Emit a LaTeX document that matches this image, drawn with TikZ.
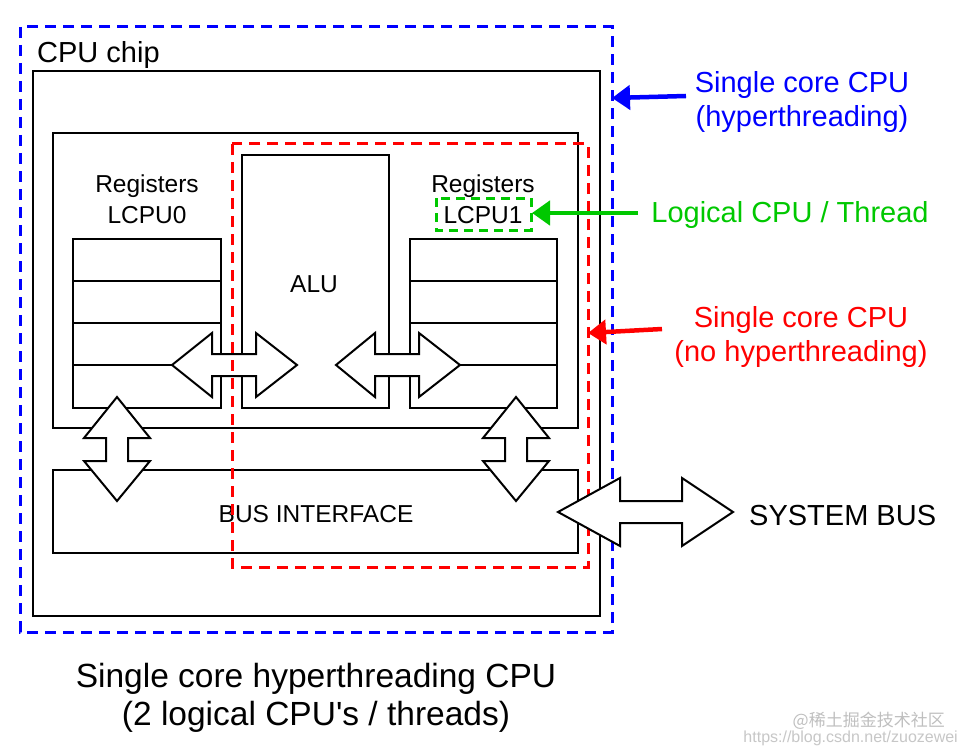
\documentclass[tikz,border=0pt]{standalone}
\usepackage{fontspec}
\setmainfont{Liberation Sans}
\newfontfamily\cjkfont{Noto Sans CJK SC}
\usetikzlibrary{arrows.meta}
\definecolor{myblue}{RGB}{0,0,255}
\definecolor{myred}{RGB}{255,0,0}
\definecolor{mygreen}{RGB}{0,200,0}
\newcommand\fs[1]{\fontsize{#1}{#1}\selectfont}
% horizontal double arrow: x tip1, x back1, x back2, x tip2, y center, head half, shaft half
\newcommand\hdarr[7]{\draw[dblarrow] (#1,#5) -- (#2,#5-#6) -- (#2,#5-#7) -- (#3,#5-#7) -- (#3,#5-#6) -- (#4,#5) -- (#3,#5+#6) -- (#3,#5+#7) -- (#2,#5+#7) -- (#2,#5+#6) -- cycle;}
\newcommand\vdarr[7]{\draw[dblarrow] (#5,#1) -- (#5-#6,#2) -- (#5-#7,#2) -- (#5-#7,#3) -- (#5-#6,#3) -- (#5,#4) -- (#5+#6,#3) -- (#5+#7,#3) -- (#5+#7,#2) -- (#5+#6,#2) -- cycle;}
\begin{document}
\begin{tikzpicture}[x=1pt,y=-1pt,
  box/.style={draw=black, line width=2pt},
  dblarrow/.style={draw=black, fill=white, line width=2pt, line join=miter},
  txt/.style={inner sep=0pt, align=center, font=\fs{24.5}},
  lbl/.style={inner sep=0pt, align=center, font=\fs{29}},
  pointer/.style={line width=4.5pt, -{Triangle[length=18pt,width=24pt]}},
  dashblue/.style={draw=myblue, line width=3pt, dash pattern=on 11pt off 7pt},
  dashred/.style={draw=myred, line width=3pt, dash pattern=on 11pt off 7pt},
  dashgreen/.style={draw=mygreen, line width=3pt, dash pattern=on 9pt off 6pt}]
\useasboundingbox (0,0) rectangle (965,754);
\fill[white] (0,0) rectangle (965,754);
% CPU chip
\draw[box] (33,71) rectangle (600,616);
\node[lbl, anchor=west] (chip) at (37,55) {CPU chip};
% core block
\draw[box] (53,133) rectangle (578,428);
% left registers
\draw[box] (73,239) rectangle (221,408);
\foreach \yy in {281,323,365} \draw[box] (73,\yy) -- (221,\yy);
\node[txt] (reg0a) at (147,186) {Registers};
\node[txt] (reg0b) at (147,215) {LCPU0};
% ALU
\draw[box] (242,155) rectangle (389,408);
\node[txt] (alu) at (314,284) {ALU};
% right registers
\draw[box] (410,239) rectangle (557,408);
\foreach \yy in {281,323,365} \draw[box] (410,\yy) -- (557,\yy);
\node[txt] (reg1a) at (483,186) {Registers};
\node[txt] (reg1b) at (483,215) {LCPU1};
% bus interface
\draw[box] (53,470) rectangle (578,553);
\node[txt] (bus) at (316,514) {BUS INTERFACE};
% internal double arrows
\hdarr{172}{212}{256}{297}{365}{32}{11}
\hdarr{336}{375}{419}{460}{365}{32}{11}
\vdarr{397}{438}{461}{501}{117}{33}{11}
\vdarr{397}{438}{461}{501}{516}{33}{11}
% dashed outlines
\draw[dashred] (232,144) rectangle (588,567);
\draw[dashgreen] (436,198) rectangle (531,230);
\draw[dashblue] (20,27) rectangle (612,632);
% system bus arrow
\hdarr{558}{620}{682}{733}{512}{34}{11}
\node[lbl, anchor=west] (sysbus) at (749,516) {SYSTEM BUS};
% pointers with labels
\node[lbl, text=myblue] (lblblue) at (802,102) {Single core CPU\\[5pt](hyperthreading)};
\coordinate (bluestart) at (686,96);
\coordinate (blueend) at (612,98);
\draw[pointer, myblue] (bluestart) -- (blueend);
\node[lbl, text=mygreen] (lblgreen) at (790,215) {Logical CPU / Thread};
\coordinate (greenstart) at (638,213);
\coordinate (greenend) at (532,213);
\draw[pointer, mygreen] (greenstart) -- (greenend);
\node[lbl, text=myred] (lblred) at (801,337) {Single core CPU\\[5pt](no hyperthreading)};
\coordinate (redstart) at (662,329);
\coordinate (redend) at (588,333);
\draw[pointer, myred] (redstart) -- (redend);
% caption
\node[inner sep=0pt, align=center, font=\fs{33.5}] (caption) at (316,698) {Single core hyperthreading CPU\\[5pt](2 logical CPU\textquotesingle s / threads)};
% watermark
\node[inner sep=0pt, anchor=east, text=black!25, font=\cjkfont\fs{17}] (wm1) at (945,721) {@稀土掘金技术社区};
\node[inner sep=0pt, anchor=east, text=black!22, font=\fs{16}] (wm2) at (958,738) {https://blog.csdn.net/zuozewei};
\end{tikzpicture}
\end{document}
